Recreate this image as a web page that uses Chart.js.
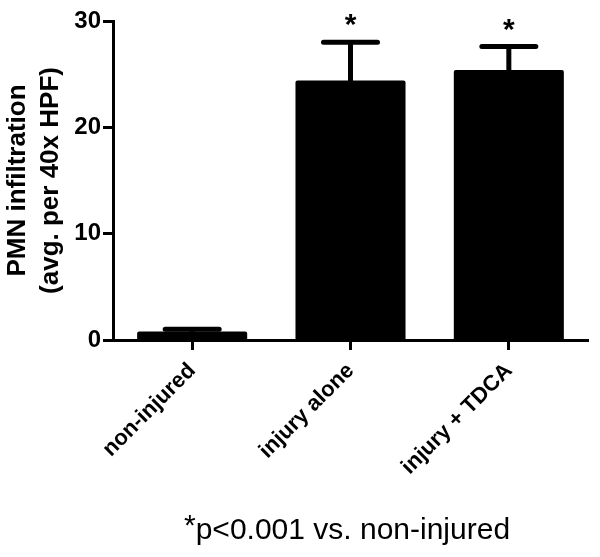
<!DOCTYPE html>
<html>
<head>
<meta charset="utf-8">
<script src="https://cdn.jsdelivr.net/npm/chart.js@4"></script>
<style>
  html, body { margin: 0; padding: 0; background: #fff; }
  #wrap { position: relative; width: 600px; height: 557px; }
  #note {
    position: absolute; left: 184px; top: 514px;
    font: 30px/29px "Liberation Sans", Arial, sans-serif; color: #000;
    white-space: nowrap;
  }
  #note span { position: relative; top: -4px; font-size: 30px; }
</style>
</head>
<body>
<div id="wrap">
  <canvas id="myChart" width="600" height="557"></canvas>
  <div id="note"><span>*</span>p&lt;0.001 vs. non-injured</div>
</div>
<script>
const groups = ['non-injured', 'injury alone', 'injury + TDCA'];
const means = [0.8, 24.4, 25.4];
const sems = [0.2, 3.6, 2.2];
const marks = ['', '*', '*'];
const yTicks = [0, 10, 20, 30];

const errorBars = {
  id: 'errorBars',
  afterDatasetsDraw(chart) {
    const c = chart.ctx;
    const y = chart.scales.y;
    const bars = chart.getDatasetMeta(0).data;
    c.save();
    c.strokeStyle = '#000';
    c.fillStyle = '#000';
    c.lineWidth = 5;
    c.lineCap = 'round';
    bars.forEach((bar, i) => {
      const top = y.getPixelForValue(means[i]);
      const end = y.getPixelForValue(means[i] + sems[i]);
      c.beginPath();
      c.moveTo(bar.x, top);
      c.lineTo(bar.x, end);
      c.moveTo(bar.x - 27, end);
      c.lineTo(bar.x + 27, end);
      c.stroke();
      if (marks[i]) {
        c.font = 'bold 30px "Liberation Sans", Arial, sans-serif';
        c.textAlign = 'center';
        c.textBaseline = 'alphabetic';
        c.fillText(marks[i], bar.x, end - 25 + 17);
      }
    });
    c.restore();
  }
};

const ctx = document.getElementById('myChart');

new Chart(ctx, {
  type: 'bar',
  data: {
    labels: groups,
    datasets: [{
      data: means,
      backgroundColor: '#000',
      borderRadius: 2,
      borderSkipped: 'bottom',
      categoryPercentage: 1,
      barPercentage: 0.695
    }]
  },
  options: {
    responsive: false,
    animation: false,
    layout: { padding: { top: 21, right: 12, left: 0, bottom: 0 } },
    plugins: {
      legend: { display: false },
      tooltip: { enabled: false }
    },
    scales: {
      x: {
        afterFit: s => { s.height = 217; },
        grid: { display: true, drawOnChartArea: false, offset: false, tickLength: 10, tickWidth: 3, tickColor: '#000' },
        border: { display: true, width: 3, color: '#000' },
        ticks: {
          minRotation: 45, maxRotation: 45, padding: 8,
          color: '#000',
          font: { family: '"Liberation Sans", Arial, sans-serif', size: 22, weight: 'bold' }
        }
      },
      y: {
        min: 0, max: 30,
        afterFit: s => { s.width = 113; },
        afterBuildTicks: s => { s.ticks = yTicks.map(v => ({ value: v })); },
        grid: { display: true, drawOnChartArea: false, tickLength: 10, tickWidth: 3, tickColor: '#000' },
        border: { display: true, width: 3, color: '#000' },
        ticks: {
          padding: 2,
          color: '#000',
          font: { family: '"Liberation Sans", Arial, sans-serif', size: 24, weight: 'bold' }
        },
        title: {
          display: true,
          text: ['PMN infiltration', '(avg. per 40x HPF)'],
          color: '#000',
          padding: { top: 2, bottom: 0 },
          font: { family: '"Liberation Sans", Arial, sans-serif', size: 26, weight: 'bold', lineHeight: 1.25 }
        }
      }
    }
  },
  plugins: [errorBars]
});
</script>
</body>
</html>
